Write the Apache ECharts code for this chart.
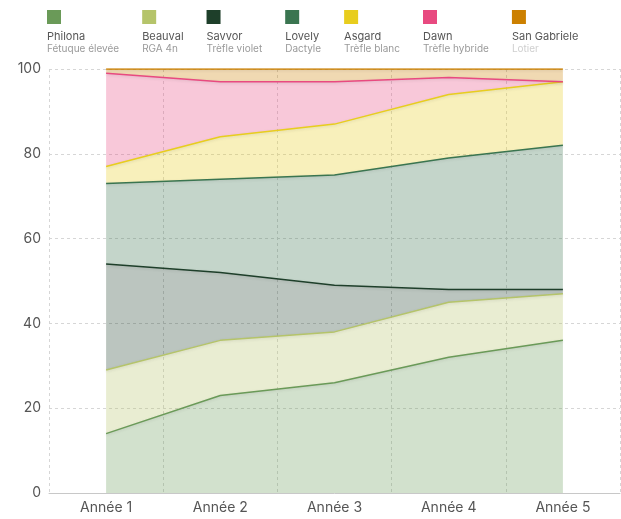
<!DOCTYPE html>
<html>
<head>
<meta charset="utf-8">
<script src="https://cdn.jsdelivr.net/npm/echarts@6/dist/echarts.min.js"></script>
<style>
html,body{margin:0;padding:0;background:#fff;}
#c{width:621px;height:519px;}
</style>
</head>
<body>
<div id="c"></div>
<script>
const categories = ['Année 1', 'Année 2', 'Année 3', 'Année 4', 'Année 5'];
const names = ['Philona', 'Beauval', 'Savvor', 'Lovely', 'Asgard', 'Dawn', 'San Gabriele'];
const subtitles = ['Fétuque élevée', 'RGA 4n', 'Trèfle violet', 'Dactyle', 'Trèfle blanc', 'Trèfle hybride', 'Lotier'];
const colors = ['#6a9a58', '#b5c46a', '#1e3f2a', '#3a7550', '#e8cd1e', '#e84a80', '#cc8000'];
const philona = [14, 23, 26, 32, 36];
const beauval = [15, 13, 12, 13, 11];
const savvor = [25, 16, 11, 3, 1];
const lovely = [19, 22, 26, 31, 34];
const asgard = [4, 10, 12, 15, 15];
const dawn = [22, 13, 10, 4, 0];
const sanGabriele = [1, 3, 3, 2, 3];
const yTicks = [0, 20, 40, 60, 80, 100];

const seriesData = [philona, beauval, savvor, lovely, asgard, dawn, sanGabriele];
const FONT = 'Inter';

const rich = {
  g: { height: 6, lineHeight: 6, fontSize: 1 },
  n: { fontSize: 11, color: '#555', lineHeight: 13, fontFamily: FONT },
  s: { fontSize: 10, color: '#9a9a9a', lineHeight: 12, fontFamily: FONT },
  sl: { fontSize: 10, color: '#cfcfcf', lineHeight: 12, fontFamily: FONT }
};
colors.forEach((c, i) => {
  rich['q' + i] = { width: 14, height: 14, lineHeight: 14, backgroundColor: c, fontSize: 1 };
});

const chart = echarts.init(document.getElementById('c'), null, { renderer: 'canvas' });
chart.setOption({
  animation: false,
  textStyle: { fontFamily: FONT },
  legend: {
    left: 37,
    top: 5,
    itemGap: 18,
    icon: 'none',
    itemWidth: 0,
    itemHeight: 14,
    selectedMode: false,
    data: names,
    formatter: function (name) {
      const i = names.indexOf(name);
      const sk = i === names.length - 1 ? 'sl' : 's';
      return '{q' + i + '| }\n{g| }\n{n|' + name + '}\n{' + sk + '|' + subtitles[i] + '}';
    },
    textStyle: { rich: rich, fontFamily: FONT }
  },
  grid: { left: 49, right: 1, top: 69, bottom: 26, containLabel: false },
  xAxis: {
    type: 'category',
    data: categories,
    boundaryGap: true,
    axisLine: { show: true, lineStyle: { color: '#c8c8c8', width: 1 } },
    axisTick: { show: false },
    axisLabel: { color: '#555', fontSize: 14, margin: 8, fontFamily: FONT },
    splitLine: { show: true, lineStyle: { type: [3, 3], color: '#d6d6d6' } }
  },
  yAxis: {
    type: 'value',
    min: yTicks[0],
    max: yTicks[yTicks.length - 1],
    interval: yTicks[1] - yTicks[0],
    axisLine: { show: false },
    axisTick: { show: false },
    axisLabel: { color: '#555', fontSize: 14, margin: 8, fontFamily: FONT },
    splitLine: { show: true, lineStyle: { type: [3, 3], color: '#d6d6d6' } }
  },
  series: names.map((n, i) => ({
    name: n,
    type: 'line',
    stack: 'total',
    data: seriesData[i],
    symbol: 'none',
    color: colors[i],
    lineStyle: { width: 1.5, color: colors[i], shadowColor: 'rgba(0,0,0,0.12)', shadowBlur: 3, shadowOffsetY: 1 },
    areaStyle: { color: colors[i], opacity: 0.3 },
    emphasis: { disabled: true }
  }))
});
</script>
</body>
</html>
